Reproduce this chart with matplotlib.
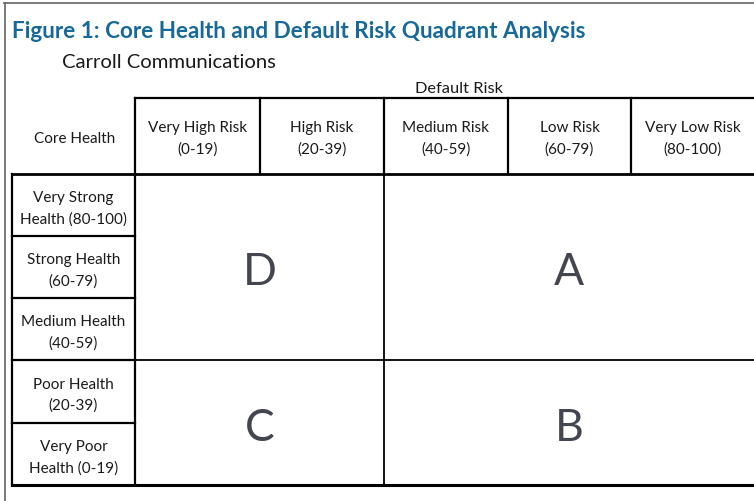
import matplotlib.pyplot as plt

# table contents
title = "Figure 1: Core Health and Default Risk Quadrant Analysis"
subtitle = "Carroll Communications"
col_header = "Default Risk"
row_header = "Core Health"
risk_labels = ["Very High Risk\n(0-19)", "High Risk\n(20-39)", "Medium Risk\n(40-59)",
               "Low Risk\n(60-79)", "Very Low Risk\n(80-100)"]
health_labels = ["Very Strong\nHealth (80-100)", "Strong Health\n(60-79)",
                 "Medium Health\n(40-59)", "Poor Health\n(20-39)", "Very Poor\nHealth (0-19)"]
quadrants = ["D", "A", "C", "B"]
quad_cols = [(0, 2), (2, 5), (0, 2), (2, 5)]
quad_rows = [(0, 3), (0, 3), (3, 5), (3, 5)]

# layout in pixels
W, H = 754, 502
col_x = [135, 260, 384, 508, 631, 755]
row_y = [175, 237, 299, 361, 424, 486]
head_top = 99
left_x = 12

fig = plt.figure(figsize=(W / 100, H / 100), dpi=100)
ax = fig.add_axes([0, 0, 1, 1])
ax.set_xlim(0, W)
ax.set_ylim(H, 0)
ax.axis("off")

font = "Lato"
txt = "#1a1a1a"
lc = "black"
lw = 1.6

# outer frame
ax.plot([4, W], [3.5, 3.5], color="#6e6e6e", lw=1.3)
ax.plot([4.5, 4.5], [3.5, H], color="#6e6e6e", lw=1.3)

ax.text(12, 31, title, fontsize=16.2, fontweight="bold", color="#17699a",
        family=font, va="center", ha="left")
ax.text(62, 63, subtitle, fontsize=14.6, color=txt, family=font, va="center", ha="left")
ax.text(459, 89, col_header, fontsize=11.8, color=txt,
        family=font, va="center", ha="center")
ax.text((left_x + col_x[0]) / 2 + 1, (head_top + row_y[0]) / 2 + 2, row_header,
        fontsize=11, color=txt, family=font, va="center", ha="center")

# header grid
ax.plot([col_x[0], W], [head_top, head_top], color=lc, lw=lw)
for x in col_x[1:-1]:
    ax.plot([x, x], [head_top, row_y[0]], color=lc, lw=lw)
ax.plot([col_x[0], col_x[0]], [head_top, row_y[-1]], color=lc, lw=lw)
for i, lab in enumerate(risk_labels):
    cx = (col_x[i] + col_x[i + 1]) / 2
    ax.text(cx, (head_top + row_y[0]) / 2 + 2, lab, fontsize=11, color=txt, family=font,
            va="center", ha="center", linespacing=1.6)

# row labels
ax.plot([left_x, left_x], [row_y[0], row_y[-1]], color=lc, lw=lw)
for y in row_y[1:-1]:
    ax.plot([left_x, col_x[0]], [y, y], color=lc, lw=lw)
for i, lab in enumerate(health_labels):
    cy = (row_y[i] + row_y[i + 1]) / 2
    ax.text((left_x + col_x[0]) / 2, cy + 3, lab, fontsize=11, color=txt, family=font,
            va="center", ha="center", linespacing=1.6)

# quadrant body
ax.plot([left_x, W], [row_y[0], row_y[0]], color=lc, lw=2.0)
ax.plot([col_x[0], W], [row_y[3], row_y[3]], color=lc, lw=1.3)
ax.plot([left_x, W], [row_y[-1], row_y[-1]], color=lc, lw=2.2)
ax.plot([col_x[2], col_x[2]], [row_y[0], row_y[-1]], color=lc, lw=1.3)
for q, (c0, c1), (r0, r1) in zip(quadrants, quad_cols, quad_rows):
    cx = (col_x[c0] + min(col_x[c1], W)) / 2
    cy = (row_y[r0] + row_y[r1]) / 2
    ax.text(cx, cy + 5, q, fontsize=32, color="#44464f", family=font,
            va="center", ha="center")

fig.savefig("out.png", dpi=100)
